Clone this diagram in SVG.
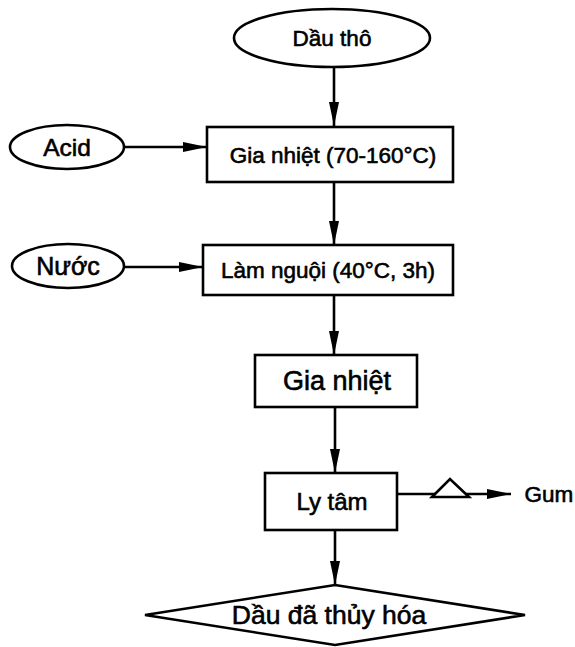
<svg xmlns="http://www.w3.org/2000/svg" width="575" height="647" viewBox="0 0 575 647">
<defs>
<marker id="ah" viewBox="0 0 24 10" refX="24" refY="5" markerWidth="24" markerHeight="10" markerUnits="userSpaceOnUse" orient="auto">
<path d="M0,0 L24,5 L0,10 Z" fill="#000"/>
</marker>
</defs>
<style>
.s{fill:#fff;stroke:#000;stroke-width:2.6}
.t{font-family:"Liberation Sans",Arial,sans-serif;font-size:22.5px;fill:#000;stroke:#000;stroke-width:0.6;text-anchor:middle;dominant-baseline:central}
.c{fill:none;stroke:#000;stroke-width:2.6}
</style>
<rect width="575" height="647" fill="#fff"/>
<g id="connectors">
<line class="c" x1="334" y1="68" x2="334" y2="126" marker-end="url(#ah)"/>
<line class="c" x1="124" y1="147" x2="207" y2="147" marker-end="url(#ah)"/>
<line class="c" x1="334" y1="182" x2="334" y2="245" marker-end="url(#ah)"/>
<line class="c" x1="124" y1="267" x2="203" y2="267" marker-end="url(#ah)"/>
<line class="c" x1="334" y1="295" x2="334" y2="355" marker-end="url(#ah)"/>
<line class="c" x1="335" y1="407" x2="335" y2="473" marker-end="url(#ah)"/>
<line class="c" x1="397" y1="494" x2="511" y2="494" marker-end="url(#ah)"/>
<polygon class="s" points="432,497 450,479 469,497"/>
<line class="c" x1="335" y1="530" x2="335" y2="585" marker-end="url(#ah)"/>
</g>
<g id="dau-tho">
<ellipse class="s" cx="332" cy="38" rx="98" ry="29"/>
<text class="t" x="332" y="38">Dầu thô</text>
</g>
<g id="acid">
<ellipse class="s" cx="67" cy="147" rx="57" ry="22"/>
<text class="t" x="67" y="147" style="font-size:24.5px">Acid</text>
</g>
<g id="gia-nhiet-1">
<rect class="s" x="207" y="127" width="246" height="55"/>
<text class="t" x="333" y="155">Gia nhiệt (70-160°C)</text>
</g>
<g id="nuoc">
<ellipse class="s" cx="68" cy="266" rx="56" ry="22"/>
<text class="t" x="68" y="266" style="font-size:25px">Nước</text>
</g>
<g id="lam-nguoi">
<rect class="s" x="203" y="245" width="250" height="50"/>
<text class="t" x="328" y="270">Làm nguội (40°C, 3h)</text>
</g>
<g id="gia-nhiet-2">
<rect class="s" x="255" y="355" width="162" height="52"/>
<text class="t" x="337" y="381" style="font-size:27px">Gia nhiệt</text>
</g>
<g id="ly-tam">
<rect class="s" x="265" y="473" width="132" height="57"/>
<text class="t" x="332" y="501" style="font-size:24px">Ly tâm</text>
</g>
<g id="gum">
<text class="t" x="549" y="494">Gum</text>
</g>
<g id="dau-da-thuy-hoa">
<polygon class="s" points="335,585 525,615 335,645 145,615"/>
<text class="t" x="329" y="615" style="font-size:26.5px">Dầu đã thủy hóa</text>
</g>
</svg>
